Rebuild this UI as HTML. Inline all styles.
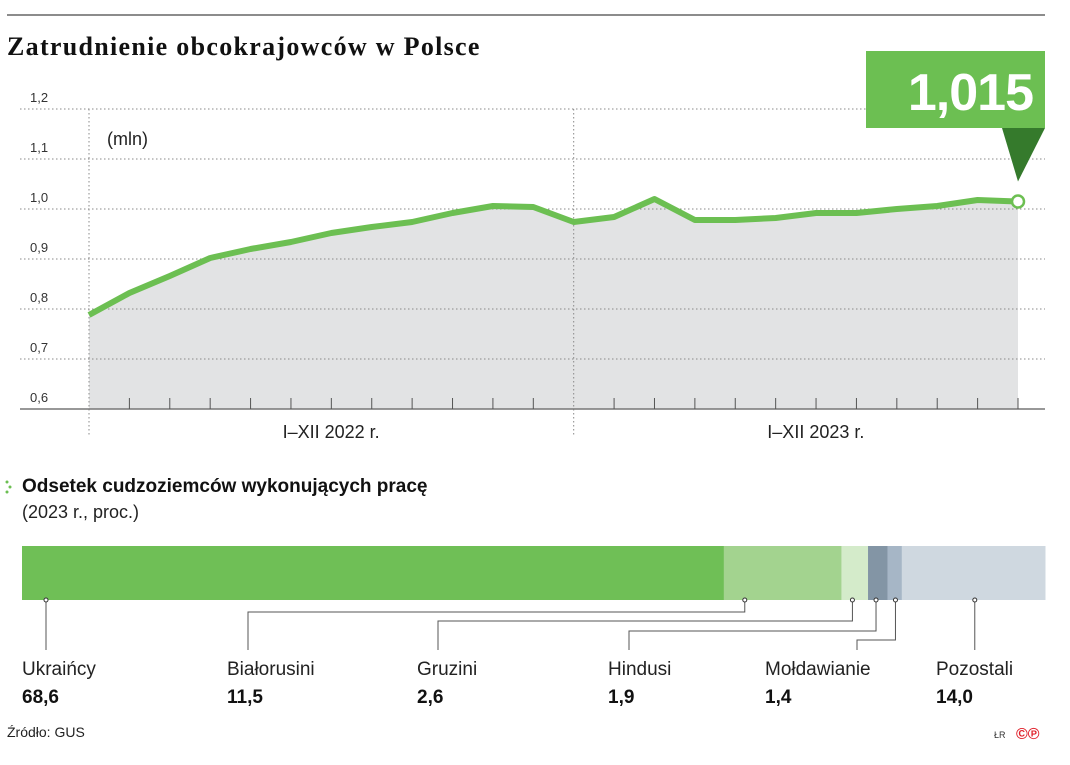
<!DOCTYPE html>
<html><head><meta charset="utf-8">
<style>
html,body{margin:0;padding:0;background:#fff;}
body{width:1070px;height:760px;overflow:hidden;font-family:"Liberation Sans",sans-serif;}
</style></head>
<body>
<svg id="chart" width="1070" height="760" xmlns="http://www.w3.org/2000/svg">
  <line x1="7" y1="15" x2="1045" y2="15" stroke="#666" stroke-width="1.5"/>
  <text x="7" y="55" font-family="Liberation Serif, serif" font-weight="bold" font-size="26" letter-spacing="1.3" fill="#111">Zatrudnienie obcokrajowców w Polsce</text>
  <g id="line-chart"></g>
  <g id="bar-chart"></g>
  <text x="7" y="737" font-size="14" fill="#222">Źródło: GUS</text>
  <text x="994" y="738" font-size="9" fill="#333">ŁR</text>
  <text x="1016" y="739" font-size="16" font-weight="bold" fill="#e0202a">©℗</text>
</svg>
<script>
const months = ["I","II","III","IV","V","VI","VII","VIII","IX","X","XI","XII","I","II","III","IV","V","VI","VII","VIII","IX","X","XI","XII"];
const employment = [0.788,0.832,0.866,0.902,0.92,0.934,0.952,0.964,0.974,0.992,1.006,1.004,0.974,0.984,1.02,0.978,0.978,0.982,0.992,0.992,1.0,1.006,1.018,1.015];
const yTicks = [0.6,0.7,0.8,0.9,1.0,1.1,1.2];
const yTickLabels = ["0,6","0,7","0,8","0,9","1,0","1,1","1,2"];
const yearLabels = ["I–XII 2022 r.","I–XII 2023 r."];
const calloutLabel = "1,015";

const groups = ["Ukraińcy","Białorusini","Gruzini","Hindusi","Mołdawianie","Pozostali"];
const shares = [68.6,11.5,2.6,1.9,1.4,14.0];
const shareLabels = ["68,6","11,5","2,6","1,9","1,4","14,0"];

const NS="http://www.w3.org/2000/svg";
function mk(tag,attrs,parent){const e=document.createElementNS(NS,tag);for(const k in attrs)e.setAttribute(k,attrs[k]);parent.appendChild(e);return e;}

const lc=document.getElementById('line-chart');
const x0=89,x1=1018,yBase=409;
const xS=i=>x0+i*(x1-x0)/(employment.length-1);
const yS=v=>yBase-(v-0.6)*500;
let pts=employment.map((v,i)=>xS(i)+','+yS(v)).join(' ');
const area=mk('polygon',{points:x0+','+yBase+' '+pts+' '+x1+','+yBase,fill:'#e2e3e4'},lc);


yTicks.forEach((t,i)=>{
  if(i>0){const g=mk('line',{x1:20,x2:1045,y1:yS(t),y2:yS(t),stroke:'#888','stroke-width':1,'stroke-dasharray':'1.5,2.5'},lc);
  
  }
  const tx=mk('text',{x:30,y:yS(t)-7,'font-size':13,fill:'#333'},lc);
  tx.textContent=yTickLabels[i];
  
  
});
[0,12].forEach(i=>{
  const v=mk('line',{x1:xS(i),x2:xS(i),y1:yS(1.2),y2:437,stroke:'#888','stroke-width':1,'stroke-dasharray':'1.5,2.5'},lc);
  
  
});
const ax=mk('line',{x1:20,x2:1045,y1:yBase,y2:yBase,stroke:'#777','stroke-width':1.5},lc);


months.forEach((m,i)=>{
  if(i===0||i===12)return;
  const t=mk('line',{x1:xS(i),x2:xS(i),y1:yBase-11,y2:yBase,stroke:'#555','stroke-width':1},lc);
  
  
});
yearLabels.forEach((l,k)=>{
  const t=mk('text',{x:(xS(k*12)+xS(k*12+11)+40)/2,y:438,'font-size':18,fill:'#222','text-anchor':'middle'},lc);
  t.textContent=l;
  
  
});
const unit=mk('text',{x:107,y:145,'font-size':18,fill:'#222'},lc);
unit.textContent='(mln)';


const ln=mk('polyline',{points:pts,fill:'none',stroke:'#6cbf52','stroke-width':6,'stroke-linejoin':'round'},lc);


const last=employment.length-1;
const cx=xS(last),cy=yS(employment[last]);
const tri=mk('polygon',{points:(cx-16)+',128 1045,128 '+cx+','+(cy-20),fill:'#357a2c'},lc);


const box=mk('rect',{x:866,y:51,width:179,height:77,fill:'#6cbf52'},lc);


const ct=mk('text',{x:1033,y:110,'font-size':52,'font-weight':'bold',fill:'#fff','text-anchor':'end','letter-spacing':'-1'},lc);
ct.textContent=calloutLabel;


const dot=mk('circle',{cx:cx,cy:cy,r:6,fill:'#fff',stroke:'#6cbf52','stroke-width':2.5},lc);



const bc=document.getElementById('bar-chart');
const st=mk('text',{x:22,y:492,'font-size':19,'font-weight':'bold',fill:'#111'},bc);
st.textContent='Odsetek cudzoziemców wykonujących pracę';


[[7,482],[10,487],[7,492]].forEach(p=>{const d=mk('circle',{cx:p[0],cy:p[1],r:1.5,fill:'#6cbf52'},bc);

});
const st2=mk('text',{x:22,y:518,'font-size':18,fill:'#222'},bc);
st2.textContent='(2023 r., proc.)';


const colors=['#6fbf56','#a3d38f','#d4ebca','#8395a5','#a6b6c6','#cfd8e0'];
const bx0=22,bx1=1045,by=546,bh=54;
const total=shares.reduce((a,b)=>a+b,0);
const wS=v=>v/total*(bx1-bx0);
const labelX=[22,227,417,608,765,936];
const anchorOff=[24,21,11,8,8,73];
const elbowY=[0,612,621,631,640,0];
let acc=bx0;
shares.forEach((s,i)=>{
  const r=mk('rect',{x:acc,y:by,width:wS(s)+0.5,height:bh,fill:colors[i]},bc);
  
  
  const mx=Math.min(acc+anchorOff[i], acc+wS(s)-2);
  acc+=wS(s);
  let d;
  if(i===0||i===5) d='M'+mx+' '+(by+bh)+' V650';
  else { const lx=i===4?857:labelX[i]+21; d='M'+mx+' '+(by+bh)+' V'+elbowY[i]+' H'+lx+' V650'; }
  const p=mk('path',{d:d,fill:'none',stroke:'#555','stroke-width':1},bc);
  
  
  const c=mk('circle',{cx:mx,cy:by+bh,r:2,fill:'#fff',stroke:'#333','stroke-width':1},bc);
  
  
  const n=mk('text',{x:labelX[i],y:675,'font-size':19,fill:'#222'},bc);
  n.textContent=groups[i];
  
  
  const v=mk('text',{x:labelX[i],y:703,'font-size':19,'font-weight':'bold',fill:'#111'},bc);
  v.textContent=shareLabels[i];
  
  
});
</script>
</body></html>
